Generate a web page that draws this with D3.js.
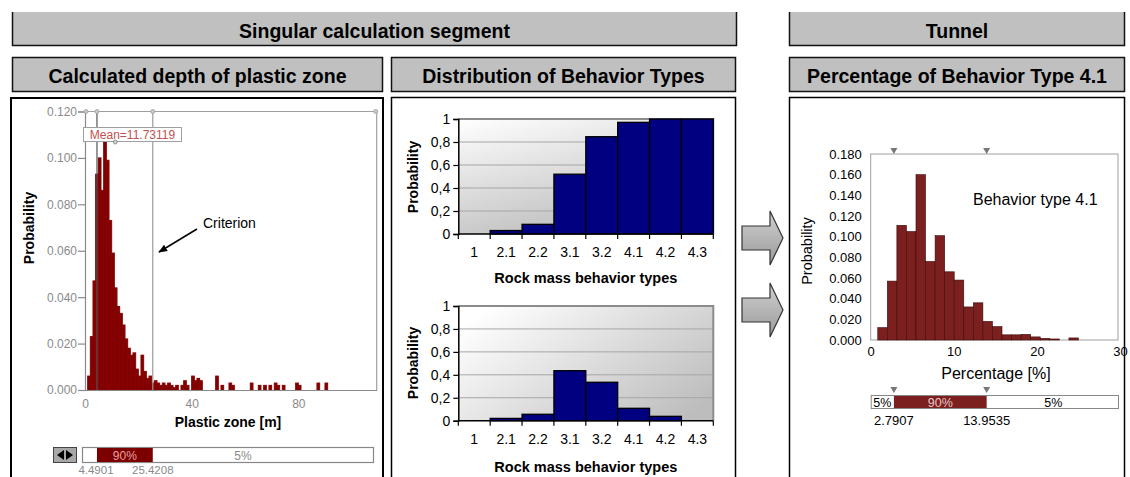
<!DOCTYPE html>
<html>
<head>
<meta charset="utf-8">
<script src="https://cdn.jsdelivr.net/npm/d3@7"></script>
<style>
  body { margin: 0; background: #fff; }
  svg { display: block; }
  text { font-family: "Liberation Sans", Arial, sans-serif; }
</style>
</head>
<body>
<svg id="c" width="1130" height="477"></svg>
<script>
// ---------- data ----------
const topHeaders = ["Singular calculation segment", "Tunnel"];
const subHeaders = ["Calculated depth of plastic zone", "Distribution of Behavior Types", "Percentage of Behavior Type 4.1"];

// plastic zone depth histogram: lower bin edge [m] (bin width 1 m) and probability
const pzBinStart = [1, 2, 3, 4, 5, 6, 7, 8, 9, 10, 11, 12, 13, 14, 15, 16, 17, 18, 19, 20,
  21, 22, 23, 24, 25, 26, 27, 28, 29, 30, 31, 32, 33, 34, 36, 37, 38, 40, 41, 42, 43,
  49, 51, 54, 55, 62, 65, 67, 69, 71, 72, 74, 79, 80, 87, 90];
const pzProb = [0.006, 0.023, 0.047, 0.093, 0.100, 0.086, 0.107, 0.099, 0.073, 0.059, 0.044,
  0.036, 0.033, 0.028, 0.022, 0.018, 0.015, 0.016, 0.009, 0.006, 0.015, 0.008, 0.005, 0.006,
  0.003, 0.004, 0.003, 0.002, 0.003, 0.002, 0.003, 0.002, 0.001, 0.002, 0.002, 0.004, 0.002,
  0.006, 0.004, 0.005, 0.004, 0.006, 0.002, 0.003, 0.002, 0.003, 0.002, 0.002, 0.002, 0.003,
  0.002, 0.002, 0.003, 0.002, 0.003, 0.003];
const pzTicksX = [0, 40, 80];
const pzTicksY = [0, 0.02, 0.04, 0.06, 0.08, 0.10, 0.12];
const pzMean = 11.73119;
const pzP5 = 4.4901;
const pzP95 = 25.4208;

// behavior types
const behaviorTypes = ["1", "2.1", "2.2", "3.1", "3.2", "4.1", "4.2", "4.3"];
const cumulativeProb = [0, 0.03, 0.084, 0.52, 0.846, 0.971, 1.0, 1.0];
const typeProb = [0, 0.02, 0.056, 0.436, 0.335, 0.108, 0.038, 0];
const behaviorTicksY = [0, 0.2, 0.4, 0.6, 0.8, 1];

// tunnel: percentage of behavior type 4.1, bin edges [%] and probability
const t41Edges = [0.85, 2.0, 3.15, 4.3, 5.45, 6.6, 7.75, 8.9, 10.05, 11.2, 12.35, 13.5, 14.65,
  15.8, 16.95, 18.1, 19.25, 20.4, 21.55, 22.7, 23.85, 25.0];
const t41Prob = [0.012, 0.057, 0.111, 0.105, 0.160, 0.076, 0.101, 0.066, 0.058, 0.032, 0.036,
  0.018, 0.013, 0.005, 0.005, 0.0055, 0.003, 0.0016, 0.001, 0, 0.002];
const t41TicksX = [0, 10, 20, 30];
const t41TicksY = [0, 0.02, 0.04, 0.06, 0.08, 0.10, 0.12, 0.14, 0.16, 0.18];
const t41P5 = 2.7907;
const t41P95 = 13.9535;

// ---------- drawing ----------
const svg = d3.select("#c");
const defs = svg.append("defs");

// header bars
const topBoxes = [{ x: 12, w: 725 }, { x: 789, w: 336 }];
topBoxes.forEach((b, i) => {
  svg.append("rect").attr("x", b.x).attr("y", 12).attr("width", b.w).attr("height", 34)
    .attr("fill", "#c0c0c0");
  svg.append("path")
    .attr("d", `M${b.x + 0.5},12 V${45.5} H${b.x + b.w - 0.5} V12`)
    .attr("fill", "none").attr("stroke", "#111").attr("stroke-width", 1.5);
  svg.append("text").attr("x", b.x + b.w / 2).attr("y", 37.5)
    .attr("text-anchor", "middle").attr("font-size", 19.5).attr("font-weight", "bold")
    .text(topHeaders[i]);
});
const subBoxes = [{ x: 12, w: 371 }, { x: 391, w: 345 }, { x: 789, w: 336 }];
subBoxes.forEach((b, i) => {
  svg.append("rect").attr("x", b.x + 0.5).attr("y", 57.5).attr("width", b.w - 1).attr("height", 34)
    .attr("fill", "#c0c0c0").attr("stroke", "#111").attr("stroke-width", 1.5);
  svg.append("text").attr("x", b.x + b.w / 2).attr("y", 82.5)
    .attr("text-anchor", "middle").attr("font-size", 19.5).attr("font-weight", "bold")
    .text(subHeaders[i]);
});

// panels
svg.append("rect").attr("x", 11).attr("y", 98).attr("width", 372).attr("height", 400)
  .attr("fill", "#fff").attr("stroke", "#000").attr("stroke-width", 2);
svg.append("rect").attr("x", 391.5).attr("y", 97.5).attr("width", 344).attr("height", 400)
  .attr("fill", "#fff").attr("stroke", "#000").attr("stroke-width", 1.5);
svg.append("rect").attr("x", 789.5).attr("y", 97.5).attr("width", 335).attr("height", 400)
  .attr("fill", "#fff").attr("stroke", "#000").attr("stroke-width", 1.5);

// block arrows between segment and tunnel
const arrGrad = defs.append("linearGradient").attr("id", "arrGrad")
  .attr("x1", 0).attr("y1", 0).attr("x2", 0).attr("y2", 1);
arrGrad.append("stop").attr("offset", 0).attr("stop-color", "#d0d0d0");
arrGrad.append("stop").attr("offset", 1).attr("stop-color", "#9a9a9a");
[238, 310].forEach(cy => {
  const pts = [[742, cy - 12], [770, cy - 12], [770, cy - 27], [783, cy], [770, cy + 27], [770, cy + 12], [742, cy + 12]];
  svg.append("polygon").attr("points", pts.map(p => p.join(",")).join(" "))
    .attr("fill", "url(#arrGrad)").attr("stroke", "#333").attr("stroke-width", 1.2);
});

// ---------- plastic zone histogram ----------
{
  const x = d3.scaleLinear().domain([0, 109.4]).range([85, 376.7]);
  const y = d3.scaleLinear().domain([0, 0.12]).range([390, 111.5]);
  const g = svg.append("g");
  const gray = "#8a8a8a";

  // frame (top + right)
  g.append("path").attr("d", `M${x(0)},${y(0.12)} H${x(109.4)} V${y(0)}`)
    .attr("fill", "none").attr("stroke", "#a0a0a0").attr("stroke-width", 1.2);

  // bars
  g.selectAll("rect.pz").data(pzBinStart).join("rect").attr("class", "pz")
    .attr("x", d => x(d)).attr("width", d => x(d + 1) - x(d))
    .attr("y", (d, i) => y(pzProb[i])).attr("height", (d, i) => y(0) - y(pzProb[i]))
    .attr("fill", "#820000").attr("stroke", "#860404").attr("stroke-width", 1);

  // 5% / 95% lines
  g.append("line").attr("x1", x(pzP95)).attr("x2", x(pzP95)).attr("y1", y(0.12)).attr("y2", y(0))
    .attr("stroke", "#9a9a9a").attr("stroke-width", 1.2);
  g.append("line").attr("x1", x(pzP5)).attr("x2", x(pzP5)).attr("y1", y(0.12)).attr("y2", y(0))
    .attr("stroke", "#555").attr("stroke-width", 1.2);

  // axes
  const ya = g.append("g").attr("transform", `translate(${x(0)},0)`)
    .call(d3.axisLeft(y).tickValues(pzTicksY).tickFormat(d3.format(".3f")).tickSize(7).tickPadding(1));
  ya.select(".domain").attr("stroke", gray).attr("stroke-width", 1.2);
  ya.selectAll(".tick line").attr("stroke", gray).attr("stroke-width", 1.2);
  ya.selectAll(".tick text").attr("fill", gray).attr("font-size", 12)
    .attr("font-family", '"Liberation Sans", Arial, sans-serif');
  const xa = g.append("g").attr("transform", `translate(0,${y(0)})`)
    .call(d3.axisBottom(x).tickValues(pzTicksX).tickFormat(d3.format("d")).tickSize(0).tickPadding(9));
  xa.select(".domain").attr("stroke", gray).attr("stroke-width", 1.2);
  xa.selectAll(".tick text").attr("fill", gray).attr("font-size", 12)
    .attr("font-family", '"Liberation Sans", Arial, sans-serif');

  // handles along the top edge
  [x(0) + 1, x(pzP5), x(pzP95), x(109.4) - 1].forEach(cx => {
    g.append("circle").attr("cx", cx).attr("cy", y(0.12)).attr("r", 2)
      .attr("fill", "#ccc").attr("stroke", "#999").attr("stroke-width", 0.8);
  });

  // mean label
  g.append("rect").attr("x", 83.5).attr("y", 127.5).attr("width", 98).attr("height", 14)
    .attr("fill", "#fff").attr("stroke", "#a0a0a0").attr("stroke-width", 1);
  g.append("text").attr("x", 132.5).attr("y", 139).attr("text-anchor", "middle")
    .attr("font-size", 12).attr("fill", "#c45050").text("Mean=" + pzMean);
  g.append("circle").attr("cx", x(pzMean) - 1).attr("cy", 142).attr("r", 2)
    .attr("fill", "#ccc").attr("stroke", "#888").attr("stroke-width", 0.8);

  // criterion annotation
  defs.append("marker").attr("id", "ah").attr("viewBox", "0 0 10 10").attr("refX", 9).attr("refY", 5)
    .attr("markerWidth", 9).attr("markerHeight", 9).attr("orient", "auto-start-reverse")
    .attr("markerUnits", "userSpaceOnUse")
    .append("path").attr("d", "M0,1 L10,5 L0,9 Z").attr("fill", "#000");
  g.append("line").attr("x1", 197).attr("y1", 229).attr("x2", 159).attr("y2", 252)
    .attr("stroke", "#000").attr("stroke-width", 1.5).attr("marker-end", "url(#ah)");
  g.append("text").attr("x", 203).attr("y", 228).attr("font-size", 14).text("Criterion");

  // titles
  g.append("text").attr("transform", "translate(34,228) rotate(-90)").attr("text-anchor", "middle")
    .attr("font-size", 14).attr("font-weight", "bold").text("Probability");
  g.append("text").attr("x", 228).attr("y", 427).attr("text-anchor", "middle")
    .attr("font-size", 14).attr("font-weight", "bold").text("Plastic zone [m]");

  // percentile slider
  g.append("rect").attr("x", 53.5).attr("y", 447.5).attr("width", 23).attr("height", 15)
    .attr("fill", "#a8a8a8").attr("stroke", "#444");
  g.append("path").attr("d", "M57,455 L64,450 L64,460 Z M73,455 L66,450 L66,460 Z").attr("fill", "#000");
  g.append("rect").attr("x", 82.5).attr("y", 447.5).attr("width", 291).attr("height", 15)
    .attr("fill", "#fff").attr("stroke", "#888").attr("stroke-width", 1.2);
  g.append("rect").attr("x", x(pzP5)).attr("y", 448).attr("width", x(pzP95) - x(pzP5)).attr("height", 14)
    .attr("fill", "#7d0000");
  g.append("text").attr("x", (x(pzP5) + x(pzP95)) / 2).attr("y", 459.5).attr("text-anchor", "middle")
    .attr("font-size", 12).attr("fill", "#e6a0a0").text("90%");
  g.append("text").attr("x", 243).attr("y", 459.5).attr("text-anchor", "middle")
    .attr("font-size", 12).attr("fill", gray).text("5%");
  g.append("text").attr("x", x(pzP5) - 1).attr("y", 473.5).attr("text-anchor", "middle")
    .attr("font-size", 11.5).attr("fill", gray).text(String(pzP5));
  g.append("text").attr("x", x(pzP95)).attr("y", 473.5).attr("text-anchor", "middle")
    .attr("font-size", 11.5).attr("fill", gray).text(String(pzP95));
}

// ---------- behavior type charts ----------
function behaviorChart(values, top, bottom, gradId, grad, labelY, titleY, probY) {
  const x = d3.scaleBand().domain(behaviorTypes).range([458.3, 713.3]).paddingInner(0).paddingOuter(0);
  const y = d3.scaleLinear().domain([0, 1]).range([bottom, top]);
  const g = svg.append("g");
  const lg = defs.append("linearGradient").attr("id", gradId)
    .attr("x1", grad[0]).attr("y1", grad[1]).attr("x2", grad[2]).attr("y2", grad[3]);
  lg.append("stop").attr("offset", 0).attr("stop-color", "#ffffff");
  lg.append("stop").attr("offset", 1).attr("stop-color", "#bdbdbd");
  const [x0, x1] = x.range();

  g.append("rect").attr("x", x0).attr("y", top).attr("width", x1 - x0).attr("height", bottom - top)
    .attr("fill", `url(#${gradId})`);
  g.selectAll("line.grid").data(behaviorTicksY.filter(d => d > 0 && d < 1)).join("line")
    .attr("x1", x0).attr("x2", x1).attr("y1", d => y(d)).attr("y2", d => y(d))
    .attr("stroke", "#a6a6a6").attr("stroke-width", 1);
  g.append("path").attr("d", `M${x0},${y(1)} H${x1} V${y(0)}`)
    .attr("fill", "none").attr("stroke", "#8c8c8c").attr("stroke-width", 2);

  g.selectAll("rect.bar").data(behaviorTypes).join("rect").attr("class", "bar")
    .attr("x", d => x(d)).attr("width", x.bandwidth())
    .attr("y", (d, i) => y(values[i])).attr("height", (d, i) => y(0) - y(values[i]))
    .attr("fill", "#000080").attr("stroke", "#000").attr("stroke-width", 1.3)
    .attr("display", (d, i) => values[i] > 0 ? null : "none");

  const ya = g.append("g").attr("transform", `translate(${x0},0)`)
    .call(d3.axisLeft(y).tickValues(behaviorTicksY)
      .tickFormat(d => String(d).replace(".", ",")).tickSize(5).tickPadding(3));
  ya.select(".domain").attr("stroke", "#000").attr("stroke-width", 1.5);
  ya.selectAll(".tick line").attr("stroke", "#000").attr("stroke-width", 1.2);
  ya.selectAll(".tick text").attr("fill", "#000").attr("font-size", 14)
    .attr("font-family", '"Liberation Sans", Arial, sans-serif');

  // category axis: ticks between categories, labels centred
  g.append("line").attr("x1", x0).attr("x2", x1).attr("y1", y(0)).attr("y2", y(0))
    .attr("stroke", "#000").attr("stroke-width", 1.5);
  g.selectAll("line.ct").data(behaviorTypes.concat(["end"])).join("line")
    .attr("x1", (d, i) => x0 + i * x.bandwidth()).attr("x2", (d, i) => x0 + i * x.bandwidth())
    .attr("y1", y(0)).attr("y2", y(0) + 5).attr("stroke", "#000").attr("stroke-width", 1.2);
  g.selectAll("text.cl").data(behaviorTypes).join("text")
    .attr("x", d => x(d) + x.bandwidth() / 2).attr("y", labelY)
    .attr("text-anchor", "middle").attr("font-size", 14).text(d => d);

  g.append("text").attr("x", (x0 + x1) / 2).attr("y", titleY).attr("text-anchor", "middle")
    .attr("font-size", 14.5).attr("font-weight", "bold").text("Rock mass behavior types");
  g.append("text").attr("transform", `translate(418,${probY}) rotate(-90)`).attr("text-anchor", "middle")
    .attr("font-size", 14).attr("font-weight", "bold").text("Probability");
}
behaviorChart(cumulativeProb, 119, 234, "bgTop", [0, 0, 0.5, 1], 257, 283, 177);
behaviorChart(typeProb, 306, 420.7, "bgBot", [0, 0.2, 1, 0.8], 444, 471.5, 363);

// ---------- tunnel: behavior type 4.1 ----------
{
  const x = d3.scaleLinear().domain([0, 30]).range([870.7, 1120]);
  const y = d3.scaleLinear().domain([0, 0.18]).range([340, 154]);
  const g = svg.append("g");

  g.append("rect").attr("x", x(0)).attr("y", y(0.18)).attr("width", x(30) - x(0) - 2).attr("height", y(0) - y(0.18))
    .attr("fill", "#fff").attr("stroke", "#a0a0a0").attr("stroke-width", 1);

  g.selectAll("rect.t").data(t41Prob).join("rect").attr("class", "t")
    .attr("x", (d, i) => x(t41Edges[i])).attr("width", (d, i) => x(t41Edges[i + 1]) - x(t41Edges[i]))
    .attr("y", d => y(d)).attr("height", d => y(0) - y(d))
    .attr("fill", "#7b1f1f").attr("stroke", "#3d0c0c").attr("stroke-width", 0.6)
    .attr("display", d => d > 0 ? null : "none");

  const ya = g.append("g").attr("transform", `translate(${x(0)},0)`)
    .call(d3.axisLeft(y).tickValues(t41TicksY).tickFormat(d3.format(".3f")).tickSize(0).tickPadding(9));
  ya.select(".domain").remove();
  ya.selectAll(".tick text").attr("fill", "#000").attr("font-size", 13)
    .attr("font-family", '"Liberation Sans", Arial, sans-serif');
  const xa = g.append("g").attr("transform", `translate(0,${y(0)})`)
    .call(d3.axisBottom(x).tickValues(t41TicksX).tickFormat(d3.format("d")).tickSize(0).tickPadding(7));
  xa.select(".domain").remove();
  xa.selectAll(".tick text").attr("fill", "#000").attr("font-size", 13)
    .attr("font-family", '"Liberation Sans", Arial, sans-serif');

  const tri = (cx, ty) => `M${cx - 3.5},${ty} L${cx + 3.5},${ty} L${cx},${ty + 6} Z`;
  [t41P5, t41P95].forEach(v => {
    g.append("path").attr("d", tri(x(v), 148)).attr("fill", "#777");
    g.append("path").attr("d", tri(x(v), 387)).attr("fill", "#777");
  });

  g.append("text").attr("x", 973).attr("y", 204.5).attr("font-size", 16).text("Behavior type 4.1");
  g.append("text").attr("transform", "translate(812,251) rotate(-90)").attr("text-anchor", "middle")
    .attr("font-size", 14.5).text("Probability");
  g.append("text").attr("x", 996).attr("y", 379).attr("text-anchor", "middle")
    .attr("font-size", 16).text("Percentage [%]");

  // percentile slider
  g.append("rect").attr("x", x(0) + 0.5).attr("y", 395.5).attr("width", x(30) - x(0) - 2).attr("height", 13)
    .attr("fill", "#fff").attr("stroke", "#888");
  g.append("rect").attr("x", x(t41P5)).attr("y", 396).attr("width", x(t41P95) - x(t41P5)).attr("height", 12)
    .attr("fill", "#7b1f1f");
  g.append("text").attr("x", (x(0) + x(t41P5)) / 2).attr("y", 406.5).attr("text-anchor", "middle")
    .attr("font-size", 12.5).text("5%");
  g.append("text").attr("x", (x(t41P5) + x(t41P95)) / 2).attr("y", 406.5).attr("text-anchor", "middle")
    .attr("font-size", 12.5).attr("fill", "#e8c8c8").text("90%");
  g.append("text").attr("x", (x(t41P95) + x(30)) / 2).attr("y", 406.5).attr("text-anchor", "middle")
    .attr("font-size", 12.5).text("5%");
  g.append("text").attr("x", x(t41P5)).attr("y", 425).attr("text-anchor", "middle")
    .attr("font-size", 13).text(String(t41P5));
  g.append("text").attr("x", x(t41P95)).attr("y", 425).attr("text-anchor", "middle")
    .attr("font-size", 13).text(String(t41P95));
}
</script>
</body>
</html>
